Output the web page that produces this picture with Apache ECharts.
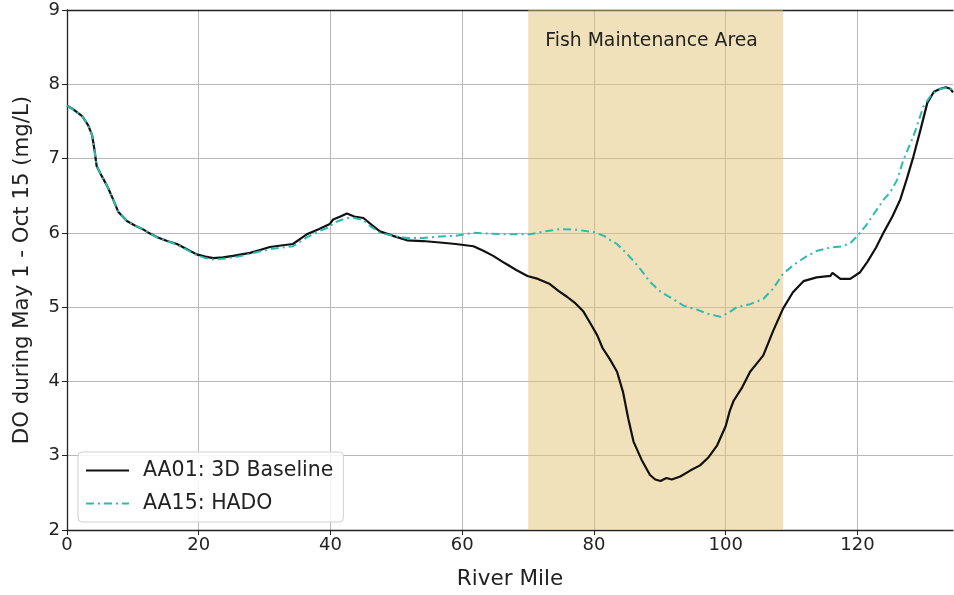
<!DOCTYPE html>
<html><head><meta charset="utf-8">
<script src="https://cdn.jsdelivr.net/npm/echarts@6/dist/echarts.min.js"></script>
<style>html,body{margin:0;padding:0;background:#fff}#c{width:954px;height:595px}</style>
</head><body><div id="c"></div>
<script>
const baselineMiles = [0,1,2.3,3.2,3.8,4.2,4.5,5.3,6.1,7,7.8,9.1,10.3,11.5,12.6,13.7,15.2,16.7,18.2,19.7,21,22.2,23.7,25.2,26.5,27.8,29.3,30.8,32.5,34.3,35.4,36.4,38.2,39.9,40.4,41.5,42.5,43.6,45,46.2,47.5,49.5,51.6,54,56.6,59,61.7,63.2,64.7,66.5,68.2,69.9,71.5,73.3,74.6,75.9,77.2,78.4,79.6,80.5,81.3,82.4,83.5,84.4,85.2,86,87.2,88.5,89.3,90.1,91,91.8,93.1,94.6,96.1,97.4,98.7,100,100.6,101.2,102.5,103.7,104.7,105.7,107.2,108.7,110.2,111.8,113.8,115.9,116.2,117.4,118.9,120.4,121.5,122.8,124,125.3,126.5,127.5,128.5,129.6,130.6,131.6,132.6,133.4,134.1,134.5];
const baselineDO   = [7.71,7.66,7.57,7.45,7.32,7.1,6.9,6.76,6.63,6.45,6.28,6.16,6.1,6.05,5.99,5.94,5.89,5.85,5.78,5.71,5.68,5.66,5.67,5.69,5.71,5.73,5.77,5.81,5.83,5.85,5.92,5.98,6.05,6.12,6.18,6.22,6.26,6.22,6.2,6.11,6.02,5.96,5.9,5.89,5.87,5.85,5.82,5.76,5.69,5.59,5.5,5.42,5.38,5.31,5.22,5.14,5.05,4.94,4.76,4.62,4.45,4.3,4.13,3.86,3.5,3.19,2.95,2.74,2.68,2.66,2.7,2.68,2.72,2.8,2.87,2.98,3.14,3.4,3.6,3.74,3.92,4.13,4.24,4.35,4.68,4.98,5.2,5.35,5.4,5.42,5.46,5.38,5.38,5.47,5.61,5.8,6.01,6.22,6.45,6.73,7.03,7.4,7.75,7.9,7.94,7.96,7.94,7.89];
const hadoMiles = [0,1,2.3,3.2,3.8,4.2,4.5,5.3,6.1,7,7.8,9.1,10.3,11.5,12.6,13.7,15.2,16.7,18.2,19.7,21,22.2,23.7,25.2,26.5,27.8,29.3,30.8,32.5,34.3,35.4,36.4,38.2,39.9,40.4,41.5,42.5,43.6,45,46.2,47.5,49.5,51.6,54,56.6,59,61.7,64,66.5,68.5,70.3,72.5,74.9,77.5,80,81.5,82.5,83.5,85,86.8,88.5,90.2,91.8,93.6,95.5,97.3,99.2,100.5,101.7,103.7,105.7,107.2,108.7,110.5,112.2,113.9,115.8,117.8,119,120,121.3,122.6,124,125,126,127,128.5,130,131.3,132.6,133.5,134.1,134.5];
const hadoDO   = [7.71,7.66,7.57,7.45,7.32,7.1,6.9,6.76,6.63,6.45,6.28,6.16,6.1,6.05,5.99,5.94,5.89,5.84,5.77,5.7,5.66,5.64,5.65,5.67,5.69,5.72,5.75,5.78,5.8,5.82,5.88,5.94,6.02,6.08,6.13,6.17,6.2,6.2,6.17,6.08,6.0,5.96,5.93,5.93,5.95,5.96,6.0,5.99,5.98,5.98,5.98,6.02,6.05,6.04,6.01,5.96,5.9,5.85,5.72,5.54,5.34,5.2,5.12,5.02,4.97,4.91,4.87,4.93,5.0,5.04,5.11,5.25,5.45,5.58,5.68,5.76,5.8,5.82,5.87,5.96,6.1,6.27,6.45,6.55,6.71,6.99,7.3,7.7,7.87,7.94,7.95,7.95,7.88];
const xTicks = [0,20,40,60,80,100,120];
const yTicks = [2,3,4,5,6,7,8,9];
const areaStart = 70, areaEnd = 108.7;

const pairs = (xs, ys) => xs.map((x, i) => [x, ys[i]]);
const font = 'DejaVu Sans';
const chart = echarts.init(document.getElementById('c'), null, {renderer: 'canvas'});
chart.setOption({
  animation: false,
  backgroundColor: '#fff',
  textStyle: {fontFamily: font},
  grid: {left: 67, top: 10, right: 1, bottom: 63},
  legend: {
    left: 78, top: 452, orient: 'vertical',
    itemWidth: 43, itemHeight: 21, itemGap: 12,
    padding: [8, 10, 8, 7],
    borderColor: '#d0d0d0', borderWidth: 1, borderRadius: 4,
    backgroundColor: 'rgba(255,255,255,0.85)',
    itemStyle: {opacity: 0},
    textStyle: {fontFamily: font, fontSize: 20.5, color: '#222', padding: [0, 0, 0, 9]},
    data: ['AA01: 3D Baseline', 'AA15: HADO']
  },
  xAxis: [{
    type: 'value', min: 0, max: 134.5, interval: 20,
    name: 'River Mile', nameLocation: 'middle', nameGap: 38,
    nameTextStyle: {fontFamily: font, fontSize: 21.5, color: '#222'},
    axisLine: {lineStyle: {color: '#222', width: 1.3}},
    axisTick: {show: true, length: 5, lineStyle: {color: '#222'}, customValues: xTicks},
    axisLabel: {fontFamily: font, fontSize: 18, color: '#222', margin: 6, customValues: xTicks},
    splitLine: {show: true, lineStyle: {color: '#b8b8b8', width: 1}}
  }, {
    type: 'value', position: 'top', min: 0, max: 134.5,
    axisLine: {show: true, lineStyle: {color: '#222', width: 1.3}},
    axisTick: {show: false}, axisLabel: {show: false}, splitLine: {show: false}
  }],
  yAxis: {
    type: 'value', min: 2, max: 9, interval: 1,
    name: 'DO during May 1 - Oct 15 (mg/L)', nameLocation: 'middle', nameGap: 34,
    nameTextStyle: {fontFamily: font, fontSize: 21.3, color: '#222'},
    axisLine: {show: true, lineStyle: {color: '#222', width: 1.3}},
    axisTick: {show: true, length: 5, lineStyle: {color: '#222'}},
    axisLabel: {fontFamily: font, fontSize: 18, color: '#222', margin: 7},
    splitLine: {show: true, lineStyle: {color: '#b8b8b8', width: 1}}
  },
  series: [{
    name: 'AA01: 3D Baseline', type: 'line', symbol: 'none', z: 3,
    data: pairs(baselineMiles, baselineDO),
    lineStyle: {color: '#111', width: 2.2},
    itemStyle: {color: '#111'},
    markArea: {
      silent: true,
      itemStyle: {color: 'rgba(228,196,118,0.5)'},
      label: {show: true, position: 'insideTop', distance: 22, offset: [-4, 0], fontFamily: font, fontSize: 18.8, color: '#222'},
      data: [[{name: 'Fish Maintenance Area', xAxis: areaStart}, {xAxis: areaEnd}]]
    }
  }, {
    name: 'AA15: HADO', type: 'line', symbol: 'none', z: 4,
    data: pairs(hadoMiles, hadoDO),
    lineStyle: {color: '#2bbbb0', width: 2, type: [8, 4, 2, 4]},
    itemStyle: {color: '#2bbbb0'}
  }]
});
</script></body></html>
